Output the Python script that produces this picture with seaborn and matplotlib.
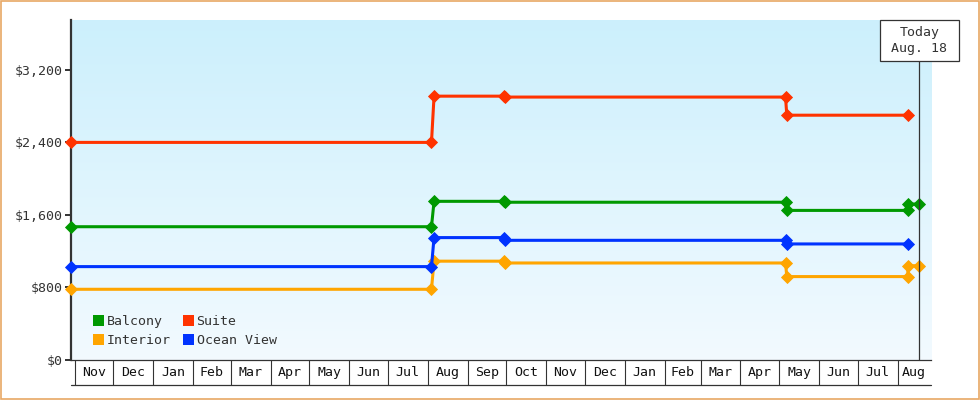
import numpy as np
import pandas as pd
import matplotlib
matplotlib.use("Agg")
import matplotlib.pyplot as plt
import matplotlib.dates as mdates
import matplotlib.transforms as mtransforms
from matplotlib.patches import Patch, Rectangle
import seaborn as sns

# price history per cabin type
DATES = ["2011-10-29", "2012-08-04", "2012-08-06", "2012-09-29", "2012-09-30",
         "2013-05-06", "2013-05-07", "2013-08-09", "2013-08-09", "2013-08-18"]
BALCONY = [1470, 1470, 1750, 1750, 1740, 1740, 1650, 1650, 1720, 1720]
INTERIOR = [780, 780, 1090, 1090, 1070, 1070, 920, 920, 1040, 1040]
SUITE = [2400, 2400, 2910, 2910, 2900, 2900, 2700, 2700]
OCEAN_VIEW = [1030, 1030, 1350, 1350, 1320, 1320, 1280, 1280]

LEGEND_ORDER = ["Balcony", "Interior", "Suite", "Ocean View"]
DRAW_ORDER = ["Interior", "Balcony", "Suite", "Ocean View"]
COLORS = {"Balcony": "#009900", "Interior": "#FFA500",
          "Suite": "#FF3300", "Ocean View": "#0033FF"}

TODAY = "2013-08-18"
TODAY_LABEL = "Today\nAug. 18"
X_START, X_END = "2011-10-29", "2013-08-27"
Y_MAX = 3750
Y_TICKS = [0, 800, 1600, 2400, 3200]

INK = "#333333"


def main():
    series = {"Balcony": BALCONY, "Interior": INTERIOR,
              "Suite": SUITE, "Ocean View": OCEAN_VIEW}
    rows = []
    for name, vals in series.items():
        for d, v in zip(DATES, vals):
            rows.append({"date": pd.Timestamp(d), "price": v, "cabin": name})
    df = pd.DataFrame(rows)

    sns.set_theme(style="white")
    plt.rcParams["font.family"] = ["DejaVu Sans Mono"]
    plt.rcParams["font.size"] = 9.5

    fig = plt.figure(figsize=(9.8, 4), dpi=100)
    ax = fig.add_axes([71 / 980, 40 / 400, 860 / 980, 340 / 400])

    # light blue gradient background
    top = np.array([0.80, 0.94, 0.99])
    bottom = np.array([0.95, 0.98, 1.0])
    t = np.linspace(0, 1, 256)[:, None]
    grad = (top * (1 - t) + bottom * t)[:, None, :]
    ax.imshow(grad, extent=[0, 1, 0, 1], transform=ax.transAxes,
              aspect="auto", zorder=0, interpolation="bilinear")

    sns.lineplot(data=df, x="date", y="price", hue="cabin", hue_order=DRAW_ORDER,
                 palette=COLORS, estimator=None, sort=False, marker="D",
                 markersize=6, markeredgewidth=0.6, linewidth=2.2,
                 legend=False, ax=ax, zorder=3)
    for line in ax.get_lines():
        line.set_markeredgecolor(line.get_color())
        line.set_clip_on(False)

    x0, x1 = pd.Timestamp(X_START), pd.Timestamp(X_END)
    ax.set_xlim(x0, x1)
    ax.set_ylim(0, Y_MAX)
    ax.set_xlabel("")
    ax.set_ylabel("")

    # y axis
    ax.set_yticks(Y_TICKS)
    ax.set_yticklabels([f"${v:,}" for v in Y_TICKS])
    ax.tick_params(axis="y", length=4, width=1.4, color=INK, pad=2,
                   labelsize=9.5, labelcolor=INK, left=True)

    # month boxes along the x axis
    starts = pd.date_range(x0 + pd.offsets.MonthBegin(0), x1, freq="MS")
    ax.set_xticks(starts)
    ax.xaxis.set_major_formatter(plt.NullFormatter())
    edges = sorted(set([x0] + list(starts) + [x1]))
    centers, labels = [], []
    for a, b in zip(edges[:-1], edges[1:]):
        if (b - a).days < 10:
            continue
        centers.append(a + (b - a) / 2)
        labels.append(a.strftime("%b") if a.day == 1 else b.strftime("%b"))
    ax.set_xticks(centers, minor=True)
    ax.set_xticklabels(labels, minor=True)
    ax.tick_params(axis="x", which="major", length=18, width=0.8,
                   color=INK, bottom=True)
    ax.tick_params(axis="x", which="minor", length=0, pad=4,
                   labelsize=9.5, labelcolor="#111111", bottom=True)
    ax.plot([0, 1], [-25 / 340, -25 / 340], transform=ax.transAxes,
            color=INK, lw=0.9, clip_on=False)

    for side in ["top", "right"]:
        ax.spines[side].set_visible(False)
    ax.spines["left"].set_color(INK)
    ax.spines["left"].set_linewidth(1.6)
    ax.spines["bottom"].set_color(INK)
    ax.spines["bottom"].set_linewidth(0.9)
    ax.grid(False)

    # today marker
    today = pd.Timestamp(TODAY)
    box_h = 41 / 340
    ax.axvline(today, ymin=0, ymax=1 - box_h, color=INK, lw=0.9, zorder=4)
    blend = mtransforms.blended_transform_factory(ax.transData, ax.transAxes)
    tnum = mdates.date2num(today)
    ax.add_patch(Rectangle((tnum - 31, 1 - box_h), 62, box_h, transform=blend,
                           facecolor="white", edgecolor=INK, lw=0.9,
                           clip_on=False, zorder=6))
    ax.text(today, 1 - box_h / 2, TODAY_LABEL, transform=blend, ha="center",
            va="center", fontsize=9.5, color=INK, linespacing=1.25, zorder=7)

    handles = [Patch(facecolor=COLORS[n], edgecolor="none", label=n)
               for n in LEGEND_ORDER]
    ax.legend(handles=handles, ncol=2, loc="lower left",
              bbox_to_anchor=(22 / 860, 13 / 340), frameon=False,
              handlelength=0.85, handleheight=0.85, handletextpad=0.2,
              columnspacing=0.9, labelspacing=0.45, borderpad=0,
              borderaxespad=0, fontsize=9.5, labelcolor=INK)

    fig.patches.append(Rectangle((0.5 / 980, 1 / 400), 978 / 980, 398 / 400,
                                 transform=fig.transFigure, fill=False,
                                 edgecolor="#E8A865", lw=1.2))

    fig.savefig("out.png", dpi=100)
    plt.close(fig)


if __name__ == "__main__":
    main()
